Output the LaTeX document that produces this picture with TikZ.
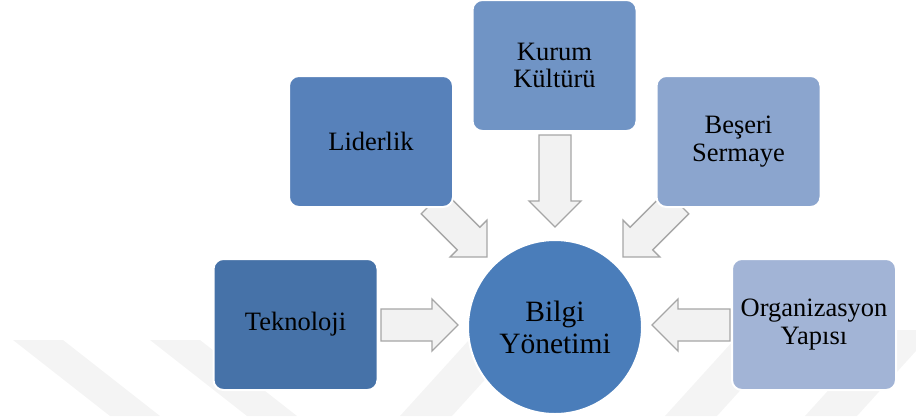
\documentclass[tikz,border=0pt]{standalone}
\usepackage{fontspec}
\setmainfont{Liberation Serif}
\definecolor{tekblue}{HTML}{4672A8}
\definecolor{lidblue}{HTML}{5781BA}
\definecolor{kurblue}{HTML}{7094C5}
\definecolor{besblue}{HTML}{8BA5CE}
\definecolor{orgblue}{HTML}{A2B4D6}
\definecolor{hubblue}{HTML}{4A7DBA}
\definecolor{arrowfill}{HTML}{F2F2F2}
\definecolor{arrowline}{HTML}{A6A6A6}
\definecolor{wmgray}{HTML}{F4F4F4}
\begin{document}
\begin{tikzpicture}[x=1pt,y=-1pt,
  box/.style={rectangle, rounded corners=10pt, draw=white, line width=2pt,
    minimum width=164pt, minimum height=131pt, inner sep=0pt, align=center,
    font=\fontsize{26.5}{27.5}\selectfont, text=black},
  hub/.style={circle, draw=white, line width=2pt, fill=hubblue,
    minimum size=174pt, inner sep=0pt, align=center,
    font=\fontsize{29.5}{32}\selectfont, text=black},
  wmband/.style={fill=wmgray, draw=none},
  arrowlen/.store in=\arrlen, arrowlen=77,
  blockarrow/.pic={
    \draw[fill=arrowfill, draw=arrowline, line width=1.3pt, line join=miter]
      (0,-16) -- (\arrlen-26,-16) -- (\arrlen-26,-26) -- (\arrlen,0)
      -- (\arrlen-26,26) -- (\arrlen-26,16) -- (0,16) -- cycle;}
]
\useasboundingbox (0,0) rectangle (916,416);

% faint background bands
\fill[wmband] (13,340) -- (63,340) -- (160,416) -- (110,416) -- cycle;
\fill[wmband] (150,340) -- (200,340) -- (297,416) -- (247,416) -- cycle;
\fill[wmband] (400,416) -- (452,416) -- (530,330) -- (478,330) -- cycle;
\fill[wmband] (665,416) -- (717,416) -- (795,330) -- (743,330) -- cycle;
\fill[wmband] (805,416) -- (857,416) -- (935,330) -- (883,330) -- cycle;

% block arrows pointing at the centre
\pic (aTek) at (381,325) {blockarrow};
\pic[rotate=180, arrowlen=78] (aOrg) at (730,325) {blockarrow};
\pic[rotate=-90, arrowlen=92] (aKur) at (555,135) {blockarrow};
\pic[rotate=-45] (aLid) at (432.5,202.5) {blockarrow};
\pic[rotate=-135] (aBes) at (677.5,202.5) {blockarrow};

% factor boxes
\node[box, fill=tekblue] (tek) at (295.5,324.5) {Teknoloji};
\node[box, fill=lidblue] (lid) at (371,141.5) {Liderlik};
\node[box, fill=kurblue] (kur) at (554.5,65.5) {Kurum\\Kültürü};
\node[box, fill=besblue] (bes) at (738.5,141.5) {Beşeri\\Sermaye};
\node[box, fill=orgblue] (org) at (814,324.5) {Organizasyon\\Yapısı};

% central concept
\node[hub] (hub) at (555,327) {Bilgi\\Yönetimi};
\end{tikzpicture}
\end{document}
